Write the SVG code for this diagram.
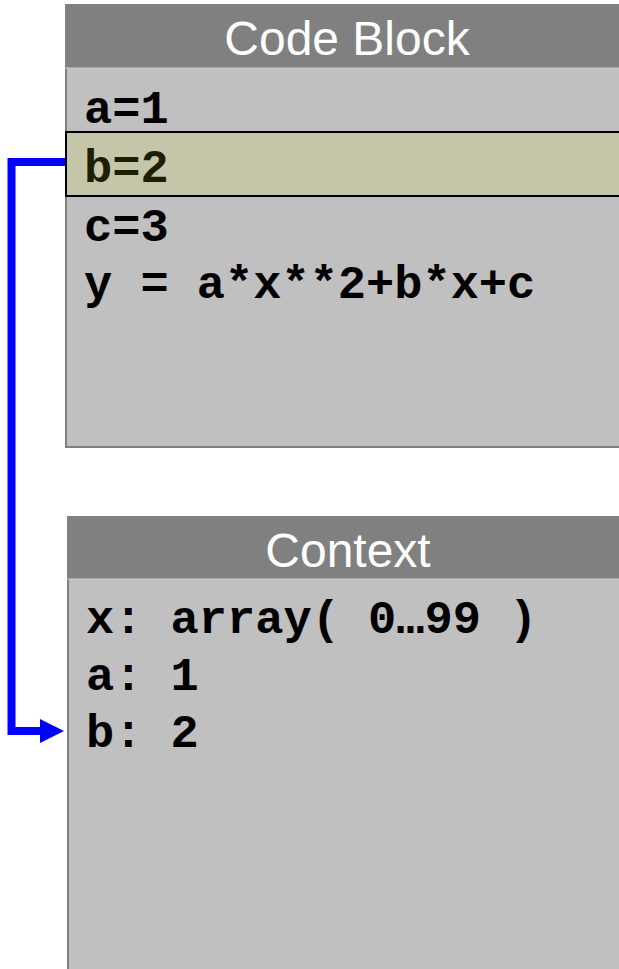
<svg xmlns="http://www.w3.org/2000/svg" width="619" height="969" viewBox="0 0 619 969">
<style>
.box{fill:#c0c0c0;stroke:#808080;stroke-width:2}
.hdr{fill:#808080}
.title{font-family:"Liberation Sans",Arial,sans-serif;font-size:48px;fill:#ffffff;text-anchor:middle}
.code{font-family:"Liberation Mono","Courier New",monospace;font-size:47px;font-weight:bold;fill:#000000}
.hl{fill:#c5c5aa;stroke:#000000;stroke-width:2}
.conn{fill:none;stroke:#0000ff;stroke-width:8}
</style>
<rect width="619" height="969" fill="#ffffff"/>
<g id="code-block">
<rect class="box" x="66" y="5" width="580" height="442"/>
<rect class="hdr" x="65" y="5" width="580" height="63"/>
<line x1="65" y1="68" x2="645" y2="68" stroke="#cccccc" stroke-width="1"/>
<text class="title" x="347" y="55">Code Block</text>
<text class="code" x="84" y="123">a=1</text>
<rect class="hl" x="66" y="132" width="580" height="64"/>
<text class="code" x="84" y="182" style="fill:#1e1e00">b=2</text>
<text class="code" x="84" y="241">c=3</text>
<text class="code" x="84" y="298">y = a*x**2+b*x+c</text>
</g>
<g id="context">
<rect class="box" x="68" y="517" width="580" height="470"/>
<rect class="hdr" x="67" y="517" width="580" height="62"/>
<line x1="67" y1="579" x2="647" y2="579" stroke="#cccccc" stroke-width="1"/>
<text class="title" x="348" y="567">Context</text>
<text class="code" x="86" y="633">x: array( 0…99 )</text>
<text class="code" x="86" y="690">a: 1</text>
<text class="code" x="86" y="747">b: 2</text>
</g>
<g id="connectors">
<polyline class="conn" points="65,162 11.5,162 11.5,731 42,731"/>
<polygon points="40,719 64,731 40,743" fill="#0000ff"/>
</g>
</svg>
